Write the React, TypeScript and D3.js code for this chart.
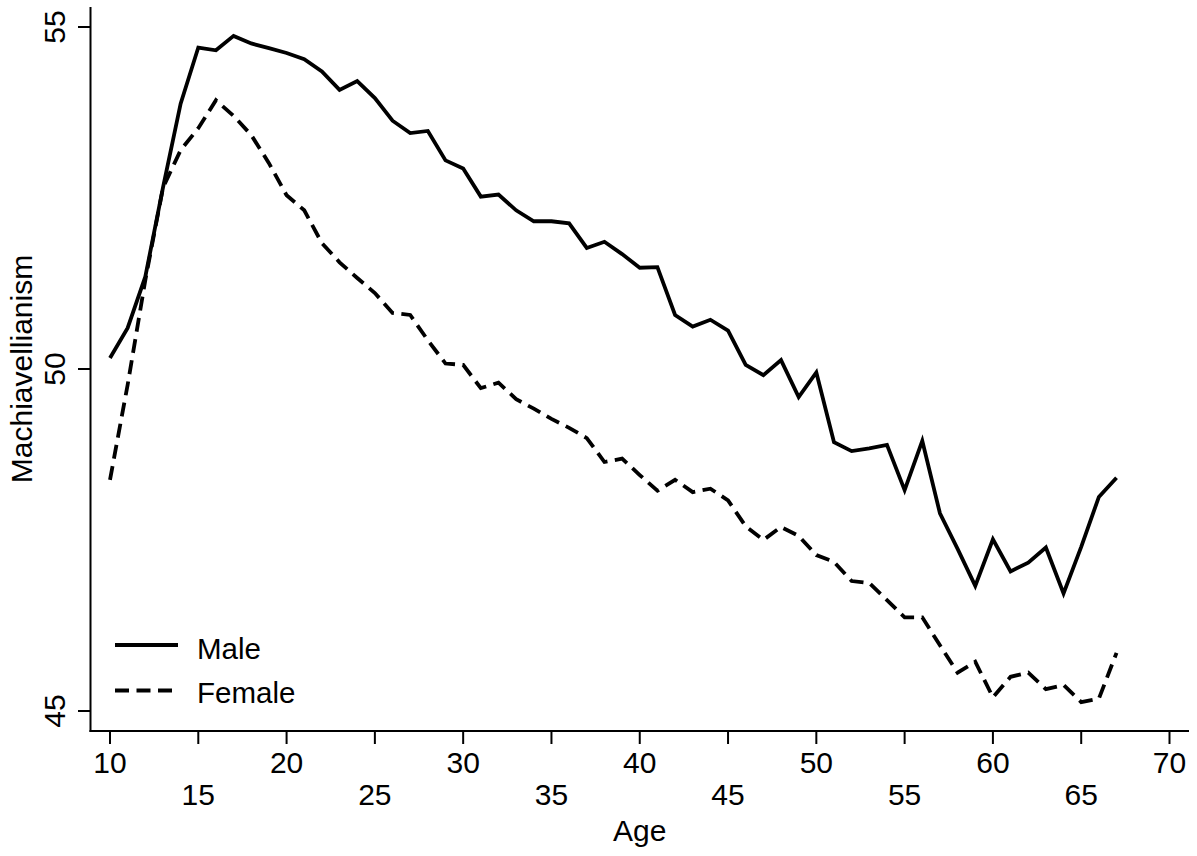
import React from "react";
import * as d3 from "d3";

const ages: number[] = d3.range(10, 68);

const male: number[] = [
  50.16, 50.6, 51.35, 52.65, 53.88, 54.7, 54.66, 54.87, 54.76, 54.69,
  54.62, 54.53, 54.35, 54.08, 54.21, 53.96, 53.63, 53.45, 53.48, 53.05,
  52.93, 52.52, 52.55, 52.32, 52.16, 52.16, 52.13, 51.77, 51.86, 51.68,
  51.48, 51.49, 50.79, 50.62, 50.72, 50.56, 50.06, 49.91, 50.13, 49.59,
  49.95, 48.93, 48.8, 48.84, 48.89, 48.23, 48.95, 47.89, 47.37, 46.83,
  47.51, 47.04, 47.17, 47.39, 46.72, 47.4, 48.13, 48.41,
];

const female: number[] = [
  48.38, 49.77, 51.3, 52.65, 53.2, 53.52, 53.93, 53.7, 53.42, 53.01,
  52.54, 52.32, 51.84, 51.56, 51.33, 51.11, 50.82, 50.79, 50.42, 50.08,
  50.06, 49.72, 49.8, 49.56, 49.42, 49.27, 49.14, 48.99, 48.64, 48.69,
  48.45, 48.22, 48.38, 48.2, 48.25, 48.08, 47.7, 47.5, 47.69, 47.56,
  47.28, 47.18, 46.9, 46.87, 46.62, 46.37, 46.37, 45.96, 45.56, 45.72,
  45.2, 45.5, 45.56, 45.32, 45.38, 45.13, 45.18, 45.85,
];

const xTicksTop: number[] = [10, 20, 30, 40, 50, 60, 70];
const xTicksBottom: number[] = [15, 25, 35, 45, 55, 65];
const yTicks: number[] = [45, 50, 55];

const seriesNames: string[] = ["Male", "Female"];

const FONT = "'Liberation Sans', Arial, Helvetica, sans-serif";

export default function App() {
  const W = 1197;
  const H = 856;
  const x = d3.scaleLinear().domain([10, 70]).range([110, 1169.5]);
  const y = d3.scaleLinear().domain([45, 55]).range([711, 27]);
  const axisX = 90.5;
  const axisY = 731;

  const line = d3
    .line<number>()
    .x((_, i) => x(ages[i]))
    .y((d) => y(d));

  const allTicks = [...xTicksTop, ...xTicksBottom];
  const strokeW = 3.8;
  const dash = "14,7.5";

  return (
    <svg
      width={W}
      height={H}
      style={{ position: "absolute", left: 0, top: 0, background: "#fff" }}
      fontFamily={FONT}
    >
      <rect x={0} y={0} width={W} height={H} fill="#fff" />
      {/* axes */}
      <line x1={axisX} x2={axisX} y1={7} y2={axisY + 1} stroke="#000" strokeWidth={2} />
      <line x1={axisX - 1} x2={1189} y1={axisY} y2={axisY} stroke="#000" strokeWidth={2} />
      {yTicks.map((t) => (
        <g key={"y" + t}>
          <line x1={78} x2={axisX} y1={y(t)} y2={y(t)} stroke="#000" strokeWidth={2} />
          <text
            transform={`translate(65,${y(t)}) rotate(-90)`}
            textAnchor="middle"
            fontSize={30}
            fill="#000"
          >
            {t}
          </text>
        </g>
      ))}
      {allTicks.map((t) => (
        <line key={"xt" + t} x1={x(t)} x2={x(t)} y1={axisY} y2={axisY + 13} stroke="#000" strokeWidth={2} />
      ))}
      {xTicksTop.map((t) => (
        <text key={"xl" + t} x={x(t)} y={773} textAnchor="middle" fontSize={30} fill="#000">
          {t}
        </text>
      ))}
      {xTicksBottom.map((t) => (
        <text key={"xb" + t} x={x(t)} y={805} textAnchor="middle" fontSize={30} fill="#000">
          {t}
        </text>
      ))}
      <text x={x(40)} y={841} textAnchor="middle" fontSize={30} fill="#000">
        Age
      </text>
      <text
        transform={`translate(31.5,369) rotate(-90)`}
        textAnchor="middle"
        fontSize={30}
        fill="#000"
      >
        Machiavellianism
      </text>

      {/* data lines */}
      <path d={line(male) || ""} fill="none" stroke="#000" strokeWidth={strokeW} strokeLinejoin="miter" />
      <path
        d={line(female) || ""}
        fill="none"
        stroke="#000"
        strokeWidth={strokeW}
        strokeDasharray={dash}
      />

      {/* legend */}
      <line x1={115} x2={178} y1={645} y2={645} stroke="#000" strokeWidth={strokeW} />
      <text x={197} y={659} fontSize={29.5} fill="#000">
        {seriesNames[0]}
      </text>
      <line
        x1={115}
        x2={178}
        y1={690.5}
        y2={690.5}
        stroke="#000"
        strokeWidth={strokeW}
        strokeDasharray={dash}
      />
      <text x={197} y={702.5} fontSize={29.5} fill="#000">
        {seriesNames[1]}
      </text>
    </svg>
  );
}
